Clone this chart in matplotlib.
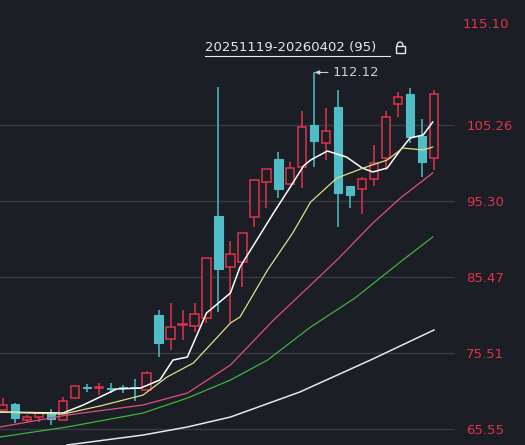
import numpy as np
import matplotlib.pyplot as plt
from matplotlib.patches import Rectangle, Arc

# candles (open, high, low, close)
opens  = [68.05, 68.84, 66.75, 67.14, 67.66, 66.75, 69.62, 71.06, 70.93, 70.93, 71.06, 71.06, 70.67,
          80.46, 77.32, 79.15, 79.02, 80.06, 93.38, 86.72, 87.38, 93.25, 97.82, 100.82, 97.56, 99.78,
          105.26, 102.91, 107.61, 97.30, 96.91, 98.21, 100.95, 108.00, 109.31, 103.83, 100.95]
highs  = [69.62, 68.97, 67.40, 67.79, 68.18, 69.75, 71.19, 71.45, 71.58, 71.58, 71.32, 72.10, 73.15,
          81.11, 82.02, 81.11, 82.02, 87.90, 110.22, 90.12, 91.16, 98.21, 99.52, 101.74, 100.43, 107.09,
          112.12, 107.48, 109.83, 97.30, 98.47, 102.65, 107.09, 109.57, 110.09, 106.05, 109.83]
lows   = [68.05, 66.36, 66.36, 66.49, 66.10, 66.75, 69.62, 70.40, 70.01, 70.27, 70.27, 69.23, 70.67,
          74.97, 75.89, 77.19, 78.24, 79.41, 80.85, 79.41, 84.11, 91.95, 94.43, 95.73, 97.43, 97.04,
          99.78, 100.69, 91.95, 94.43, 93.64, 97.30, 99.39, 106.31, 102.91, 98.47, 99.39]
closes = [68.71, 67.01, 67.14, 67.66, 66.88, 69.23, 71.19, 70.93, 71.06, 70.80, 70.93, 70.93, 72.88,
          76.80, 78.89, 79.28, 80.59, 87.90, 86.46, 88.42, 91.16, 98.08, 99.52, 96.91, 99.65, 105.00,
          103.17, 104.48, 96.38, 96.12, 98.21, 100.30, 106.31, 108.92, 103.69, 100.43, 109.31]

# moving averages (candle index, price)
ma5_x = [-0.25, 5.0, 6.7, 9.5, 11.5, 13.1, 14.2, 15.4, 17.0, 19.0, 19.8, 22.6, 24.0, 25.1, 25.7, 27.1,
         28.7, 30.0, 30.9, 32.1, 33.2, 34.0, 35.1, 35.9]
ma5_y = [67.79, 67.66, 68.71, 70.80, 70.93, 71.97, 74.58, 74.97, 80.72, 83.33, 86.72, 93.77, 97.17,
         99.91, 100.69, 101.87, 101.08, 99.65, 99.13, 99.65, 102.00, 103.56, 103.96, 105.65]
ma10_x = [-0.25, 5.0, 8.1, 11.7, 13.7, 15.9, 19.0, 19.8, 22.1, 24.2, 25.7, 27.9, 30.1, 32.1, 33.4, 35.1, 35.9]
ma10_y = [67.79, 67.53, 68.58, 70.01, 72.36, 74.19, 79.41, 80.20, 86.33, 91.16, 95.21, 98.34, 99.65,
          100.69, 102.26, 102.00, 102.39]
ma20_x = [-0.25, 5.35, 11.7, 15.4, 19.0, 22.6, 25.7, 27.9, 30.9, 33.2, 35.9]
ma20_y = [65.84, 67.40, 68.71, 70.27, 73.93, 79.80, 84.37, 87.64, 92.47, 95.73, 99.00]
ma30_x = [-0.25, 5.35, 11.7, 15.4, 19.0, 22.1, 25.7, 29.4, 33.4, 35.9]
ma30_y = [64.53, 65.84, 67.66, 69.62, 71.97, 74.58, 78.89, 82.67, 87.64, 90.64]
ma60_x = [5.35, 11.7, 15.4, 19.0, 24.8, 30.7, 36.0]
ma60_y = [63.49, 64.79, 65.84, 67.14, 70.41, 74.58, 78.50]

ytick_vals = [105.26, 95.30, 85.47, 75.51, 65.55]
top_label = "115.10"
range_label = "20251119-20260402 (95)"
high_label = "112.12"

bg = '#1b1e24'
up = '#e0334c'
down = '#4fbcc8'

fig = plt.figure(figsize=(5.25, 4.45), dpi=100, facecolor=bg)
ax = fig.add_axes([0, 0, 455/525, 1], facecolor=bg)

for i, (o, h, l, c) in enumerate(zip(opens, highs, lows, closes)):
    if c >= o:
        ax.vlines(i, l, min(o, c), color=up, lw=1.1)
        ax.vlines(i, max(o, c), h, color=up, lw=1.1)
        ax.add_patch(Rectangle((i - 0.35, o), 0.7, max(c - o, 0.05), facecolor=bg,
                               edgecolor=up, lw=1.1, zorder=3))
    else:
        ax.vlines(i, l, h, color=down, lw=1.1)
        ax.add_patch(Rectangle((i - 0.35, c), 0.7, max(o - c, 0.12), facecolor=down,
                               edgecolor=down, lw=0.8, zorder=3))

ax.plot(ma5_x, ma5_y, color='#ffffff', lw=1.1, zorder=4)
ax.plot(ma10_x, ma10_y, color='#dede8a', lw=0.9, zorder=4)
ax.plot(ma20_x, ma20_y, color='#e0507a', lw=0.9, zorder=4)
ax.plot(ma30_x, ma30_y, color='#3fb33f', lw=0.9, zorder=4)
ax.plot(ma60_x, ma60_y, color='#e8e8e8', lw=1.1, zorder=4)

ax.set_xlim(-0.25, 37.76)
ax.set_ylim(63.49, 121.58)
ax.set_xticks([])
ax.set_yticks(ytick_vals)
ax.set_yticklabels([f"{v:.2f}" for v in ytick_vals])
ax.yaxis.tick_right()
ax.tick_params(axis='y', length=0, pad=8, labelcolor=up, labelsize=9.5)
ax.grid(axis='y', color='#383b41', lw=1)
for s in ax.spines.values():
    s.set_visible(False)
ax.text(1 + 8/455, 118.32, top_label, transform=ax.get_yaxis_transform(), color=up,
        fontsize=9.5, va='center', ha='left')

# high marker
hi = int(np.argmax(highs))
ax.annotate(high_label, xy=(hi, highs[hi]), xytext=(hi + 1.5, highs[hi]),
            color='#d0d0d0', fontsize=9.5, va='center',
            arrowprops=dict(arrowstyle='-|>,head_width=0.12,head_length=0.3', color='#d0d0d0',
                            lw=0.8, shrinkA=1, shrinkB=0))

# range label with lock
fig.text(205/525, 1 - 47/445, range_label, color='#e8e8e8', fontsize=9.5, va='center', ha='left')
fig.add_artist(plt.Line2D([205/525, 390/525], [1 - 56/445, 1 - 56/445], color='#e8e8e8', lw=0.8))
fig.add_artist(Rectangle((396/525, 1 - 53/445), 9/525, 7/445, transform=fig.transFigure,
                         facecolor='none', edgecolor='#e8e8e8', lw=1))
fig.add_artist(Arc((400/525, 1 - 46/445), 6/525, 8/445, theta1=0, theta2=180,
                   transform=fig.transFigure, color='#e8e8e8', lw=1))

fig.savefig('out.png', dpi=100, facecolor=bg)
